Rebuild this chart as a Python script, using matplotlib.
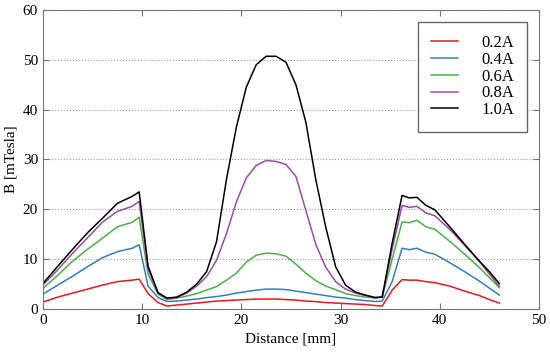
import numpy as np
from matplotlib import pyplot as plt

plt.rcParams['font.family'] = ['Liberation Serif', 'DejaVu Serif']

# distance along the axis [mm]
distance = [0, 1.5, 3, 4.5, 6, 7.5, 9, 9.7, 10.6, 11.6, 12.5, 13.5, 14.5, 15.5,
            16.5, 17.5, 18.5, 19.5, 20.5, 21.5, 22.5, 23.5, 24.5, 25.5, 26.5,
            27.5, 28.5, 29.5, 30.5, 31.5, 32.5, 33.5, 34.2, 35.2, 36.2, 36.9,
            37.7, 38.6, 39.5, 41, 42.5, 44, 45, 46]

b_02 = [1.4, 2.4, 3.2, 4.0, 4.8, 5.5, 5.8, 6.0, 3.1, 1.3, 0.6, 0.8, 1.0, 1.2,
        1.4, 1.6, 1.7, 1.8, 1.9, 2.0, 2.0, 2.0, 1.9, 1.8, 1.6,
        1.5, 1.3, 1.2, 1.1, 1.0, 0.9, 0.7, 0.6, 3.8, 5.9, 5.8,
        5.8, 5.5, 5.3, 4.6, 3.6, 2.7, 1.9, 1.2]
b_04 = [3.0, 4.8, 6.6, 8.5, 10.3, 11.5, 12.2, 12.9, 4.6, 2.3, 1.5, 1.6, 1.8, 2.0,
        2.3, 2.5, 2.8, 3.2, 3.5, 3.8, 4.0, 4.0, 3.9, 3.6, 3.3,
        3.0, 2.7, 2.4, 2.2, 1.9, 1.7, 1.5, 1.6, 5.5, 12.2, 11.9,
        12.2, 11.4, 11.0, 9.3, 7.5, 5.6, 4.2, 2.8]
b_06 = [4.1, 6.8, 9.6, 12.0, 14.2, 16.5, 17.4, 18.4, 7.0, 3.0, 1.9, 2.2, 2.6, 3.1,
        3.8, 4.5, 5.8, 7.2, 9.4, 10.8, 11.2, 11.1, 10.6, 9.0, 7.2,
        5.7, 4.6, 3.9, 3.1, 2.7, 2.4, 2.2, 2.4, 10.0, 17.5, 17.3,
        17.8, 16.5, 16.0, 13.6, 11.0, 8.3, 6.3, 4.3]
b_08 = [4.8, 7.9, 11.2, 14.3, 17.4, 19.6, 20.6, 21.6, 8.0, 3.2, 2.1, 2.3, 3.2, 4.6,
        6.5, 9.8, 15.1, 21.5, 26.3, 28.8, 29.8, 29.6, 29.0, 26.6, 19.8,
        13.0, 8.4, 5.5, 4.0, 3.2, 2.7, 2.3, 2.5, 12.0, 20.8, 20.4,
        20.6, 19.3, 18.7, 16.0, 12.8, 9.5, 7.0, 4.6]
b_10 = [5.1, 8.6, 12.0, 15.3, 18.2, 21.2, 22.6, 23.5, 8.6, 3.3, 2.2, 2.4, 3.4, 5.0,
        7.5, 13.5, 26.0, 36.5, 44.5, 49.0, 50.7, 50.7, 49.5, 45.0, 37.5,
        26.0, 16.5, 8.5, 4.8, 3.4, 2.8, 2.3, 2.4, 13.2, 22.8, 22.3,
        22.4, 20.8, 19.9, 16.5, 13.0, 9.6, 7.5, 5.1]

labels = ['0.2A', '0.4A', '0.6A', '0.8A', '1.0A']
colors = ['#e41a1c', '#377eb8', '#4daf4a', '#984ea3', 'black']

fig = plt.figure(figsize=(5.5, 3.54), dpi=100)
ax = fig.add_axes([0.078, 0.127, 0.902, 0.845])

for y, lab, c in zip([b_02, b_04, b_06, b_08, b_10], labels, colors):
    ax.plot(distance, y, color=c, lw=1.1, label=lab)

ax.set_xlim(0, 50)
ax.set_ylim(0, 60)
ax.set_xticks(np.arange(0, 51, 10))
ax.set_yticks(np.arange(0, 61, 10))
ax.yaxis.grid(True, linestyle=':', color='#999999', lw=0.8)
ax.tick_params(direction='in', top=True, right=True, colors='#777777',
               labelcolor='black', labelsize=11, length=4)
for s in ax.spines.values():
    s.set_color('#777777')

ax.set_xlabel('Distance [mm]', fontsize=11)
ax.set_ylabel('B [mTesla]', fontsize=11)

leg = ax.legend(loc='upper right', fontsize=12, fancybox=False, framealpha=1,
                handlelength=1.6, handletextpad=1.4, labelspacing=0.05,
                borderpad=0.8, borderaxespad=0.7)
leg.get_frame().set_edgecolor('#666666')

plt.savefig('out.png', dpi=100)
